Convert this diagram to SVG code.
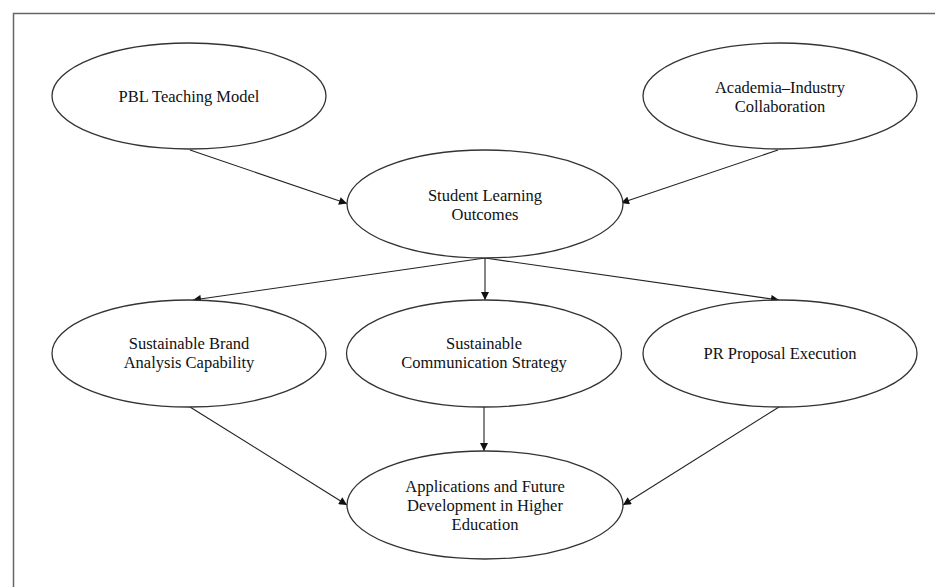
<svg xmlns="http://www.w3.org/2000/svg" width="935" height="587" viewBox="0 0 935 587">
  <style>
    .node ellipse { fill: #ffffff; stroke: #333333; stroke-width: 1.3; }
    .node text { font-family: "Liberation Serif", "Times New Roman", serif; font-size: 16.5px; fill: #111111; text-anchor: middle; }
    .edge { stroke: #222222; stroke-width: 1.1; fill: none; marker-end: url(#arrow); }
    .frame { fill: none; stroke: #666666; stroke-width: 1.5; }
  </style>
  <defs>
    <marker id="arrow" viewBox="0 0 10 10" refX="10" refY="5" markerWidth="10" markerHeight="8" markerUnits="userSpaceOnUse" orient="auto">
      <path d="M0,0 L10,5 L0,10 z" fill="#111111"/>
    </marker>
  </defs>

  <rect width="935" height="587" fill="#ffffff"/>
  <rect class="frame" x="13.5" y="13.5" width="1000" height="1000"/>

  <g id="connectors">
    <line class="edge" x1="190" y1="150" x2="347" y2="203.5"/>
    <line class="edge" x1="778" y1="150" x2="621" y2="203"/>
    <line class="edge" x1="485" y1="258" x2="193" y2="300"/>
    <line class="edge" x1="485" y1="258" x2="485" y2="300"/>
    <line class="edge" x1="485" y1="258" x2="779" y2="300"/>
    <line class="edge" x1="190" y1="407" x2="347" y2="505"/>
    <line class="edge" x1="484" y1="407" x2="484" y2="451"/>
    <line class="edge" x1="779" y1="407" x2="623" y2="505"/>
  </g>

  <g id="pbl" class="node">
    <ellipse cx="189" cy="96" rx="137" ry="53"/>
    <text x="189" y="102">PBL Teaching Model</text>
  </g>

  <g id="academia" class="node">
    <ellipse cx="780" cy="96" rx="137" ry="53"/>
    <text x="780" y="93">Academia–Industry</text>
    <text x="780" y="112">Collaboration</text>
  </g>

  <g id="student" class="node">
    <ellipse cx="485" cy="204" rx="138" ry="54"/>
    <text x="485" y="200.5">Student Learning</text>
    <text x="485" y="220">Outcomes</text>
  </g>

  <g id="brand" class="node">
    <ellipse cx="189" cy="353.5" rx="137" ry="53.5"/>
    <text x="189" y="348.5">Sustainable Brand</text>
    <text x="189" y="367.5">Analysis Capability</text>
  </g>

  <g id="communication" class="node">
    <ellipse cx="484" cy="353.5" rx="137.5" ry="53.5"/>
    <text x="484" y="349">Sustainable</text>
    <text x="484" y="368">Communication Strategy</text>
  </g>

  <g id="pr" class="node">
    <ellipse cx="780" cy="353.5" rx="137" ry="53.5"/>
    <text x="780" y="358.5">PR Proposal Execution</text>
  </g>

  <g id="higher-ed" class="node">
    <ellipse cx="485" cy="505" rx="138" ry="54"/>
    <text x="485" y="492">Applications and Future</text>
    <text x="485" y="511">Development in Higher</text>
    <text x="485" y="530">Education</text>
  </g>
</svg>
